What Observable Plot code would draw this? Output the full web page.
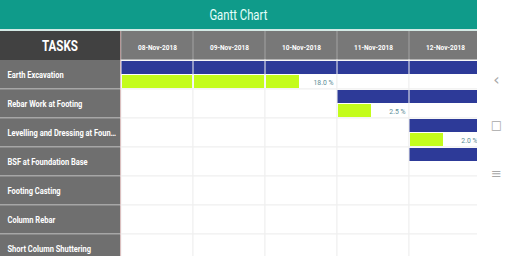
<!DOCTYPE html>
<html><head><meta charset="utf-8">
<script src="https://cdn.jsdelivr.net/npm/d3@7"></script>
<script src="https://cdn.jsdelivr.net/npm/@observablehq/plot@0.6"></script>
<style>
html,body{margin:0;padding:0;}
body{width:512px;height:256px;overflow:hidden;background:#fff;position:relative;font-family:Roboto,sans-serif;}
#title{position:absolute;left:0;top:0;width:477px;height:29px;background:#0f9b8a;color:#e6fffb;font-size:15px;line-height:30px;text-align:center;border-bottom:2px solid #d3e9e5;}
#title span{display:inline-block;transform-origin:50% 50%;}
#chart{position:absolute;left:0;top:31px;}
#nav{position:absolute;left:477px;top:0;width:35px;height:256px;background:#fff;color:#a8a8a8;font-family:"DejaVu Sans",sans-serif;}
#nav div{position:absolute;left:2px;width:35px;text-align:center;}
</style></head>
<body>
<div id="title"><span>Gantt Chart</span></div>
<div id="chart"></div>
<div id="nav"><div style="top:70px;font-size:16px">‹</div><div style="top:118px;font-size:12px">□</div><div style="top:166px;font-size:13px">≡</div></div>
<script>
const tasks = ["Earth Excavation","Rebar Work at Footing","Levelling and Dressing at Foun…","BSF at Foundation Base","Footing Casting","Column Rebar","Short Column Shuttering"];
const days = ["2018-11-08","2018-11-09","2018-11-10","2018-11-11","2018-11-12","2018-11-13"];
const plannedTasks = ["Earth Excavation","Rebar Work at Footing","Levelling and Dressing at Foun…","BSF at Foundation Base"];
const plannedStart = ["2018-11-08","2018-11-11","2018-11-12","2018-11-12"];
const plannedEnd = ["2018-11-15","2018-11-15","2018-11-15","2018-11-15"];
const actualTasks = ["Earth Excavation","Rebar Work at Footing","Levelling and Dressing at Foun…"];
const actualStart = ["2018-11-08","2018-11-11","2018-11-12"];
const actualEnd = ["2018-11-10T11:40","2018-11-11T11:40","2018-11-12T11:40"];
const progress = [18.0, 2.5, 2.0];

const D = s => new Date(s + (s.length === 10 ? "T00:00Z" : "Z"));
const dayDates = days.map(D);
const shownDays = dayDates.slice(0, -1);
const planned = plannedTasks.map((t, i) => ({task: t, start: D(plannedStart[i]), end: D(plannedEnd[i])}));
const actual = actualTasks.map((t, i) => ({task: t, start: D(actualStart[i]), end: D(actualEnd[i]), pct: progress[i]}));
const cells = tasks.flatMap(t => shownDays.map(d => ({task: t, start: d, end: d3.utcDay.offset(d, 1)})));
const split = rows => rows.flatMap(r => d3.utcDays(d3.utcDay.floor(r.start), r.end).map(d => ({...r, s: d < r.start ? r.start : d, e: d3.utcDay.offset(d,1) > r.end ? r.end : d3.utcDay.offset(d,1)})));
const mids = shownDays.map(d => new Date(+d + 12*3600e3));
const fmt = d3.utcFormat("%d-%b-%Y");

const backdrop = (index, scales, values, dim) => {
  const {width, height, marginTop, marginLeft} = dim;
  const g = d3.create("svg:g");
  g.append("rect").attr("width", width).attr("height", marginTop).attr("fill", "#787878");
  g.append("rect").attr("width", marginLeft - 1).attr("height", marginTop).attr("fill", "#414141");
  g.append("rect").attr("y", marginTop).attr("width", marginLeft - 1).attr("height", height - marginTop).attr("fill", "#6f6f6f");
  g.append("rect").attr("x", marginLeft - 1).attr("width", 1).attr("height", height).attr("fill", "#c99090");
  for (const d of dayDates) g.append("rect").attr("x", scales.x(d) - 0.5).attr("width", 1).attr("height", marginTop).attr("fill", "#a2a2a2");
  for (const t of tasks) g.append("rect").attr("y", scales.y(t) + scales.y.bandwidth() - 1).attr("width", marginLeft - 1).attr("height", 1.5).attr("fill", "#a6a6a6");
  g.append("text").attr("class", "tasks-head").attr("x", (marginLeft - 1) / 2).attr("y", marginTop / 2).attr("dy", "0.36em")
    .attr("text-anchor", "middle").attr("fill", "white").attr("font-weight", "bold").attr("font-size", 14).text("TASKS");
  return g.node();
};

const chart = Plot.plot({
  width: 477,
  height: 29 + 29 * tasks.length,
  marginTop: 29, marginLeft: 121, marginRight: 0, marginBottom: 0,
  style: {fontFamily: "Roboto, sans-serif", overflow: "hidden", background: "white"},
  x: {type: "utc", domain: [dayDates[0], dayDates[dayDates.length - 1]], range: [121, 481]},
  y: {domain: tasks, padding: 0},
  marks: [
    backdrop,
    Plot.barX(cells, {x1: "start", x2: "end", y: "task", fill: "white", stroke: "#efefef"}),
    Plot.barX(split(planned), {x1: "s", x2: "e", y: "task", fill: "#2d3a98", insetTop: 1, insetBottom: 15, insetLeft: 0.5, insetRight: 0.5}),
    Plot.barX(split(actual), {x1: "s", x2: "e", y: "task", fill: "#c4fc1c", insetTop: 15, insetBottom: 1, insetLeft: 1, insetRight: 1}),
    Plot.text(actual, {x: d => d3.utcDay.ceil(d.end), y: "task", text: d => d.pct.toFixed(1) + " %", textAnchor: "end", dx: -4, dy: 7, fill: "#5b8c96", fontSize: 8, className: "pct"}),
    Plot.axisX(mids, {anchor: "top", label: null, tickSize: 0, tickPadding: 11, tickFormat: fmt, fill: "white", fontWeight: "bold", fontSize: 8, className: "xlab"}),
    Plot.axisY({anchor: "left", label: null, tickSize: 0, tickPadding: 0, textAnchor: "start", dx: -114, fill: "white", fontWeight: "bold", fontSize: 9.5, className: "ylab"})
  ]
});
document.getElementById("chart").append(chart);

// condense text horizontally to mimic the narrow typeface of the original
function condense(nodes, k) {
  nodes.forEach(el => {
    const x0 = (+el.getAttribute("x") || 0);
    const t = el.getAttribute("transform") || "";
    el.setAttribute("transform", `${t} translate(${x0},0) scale(${k},1) translate(${-x0},0)`);
  });
}
function factor(nodes, sample, target) {
  const el = nodes.find(n => n.textContent === sample) || nodes[0];
  return target / el.getComputedTextLength();
}
const ylabs = [...chart.querySelectorAll(".ylab text")].filter(n => tasks.includes(n.textContent));
condense(ylabs, factor(ylabs, "Rebar Work at Footing", 75));
const xlabs = [...chart.querySelectorAll(".xlab text")].filter(n => /Nov/.test(n.textContent));
condense(xlabs, factor(xlabs, "08-Nov-2018", 39));
const pcts = [...chart.querySelectorAll(".pct text")];
condense(pcts, factor(pcts, "18.0 %", 20));
const th = [...chart.querySelectorAll(".tasks-head")];
condense(th, factor(th, "TASKS", 36));
const span = document.querySelector("#title span");
span.style.transform = `scaleX(${58 / span.getBoundingClientRect().width})`;
</script>
</body></html>
